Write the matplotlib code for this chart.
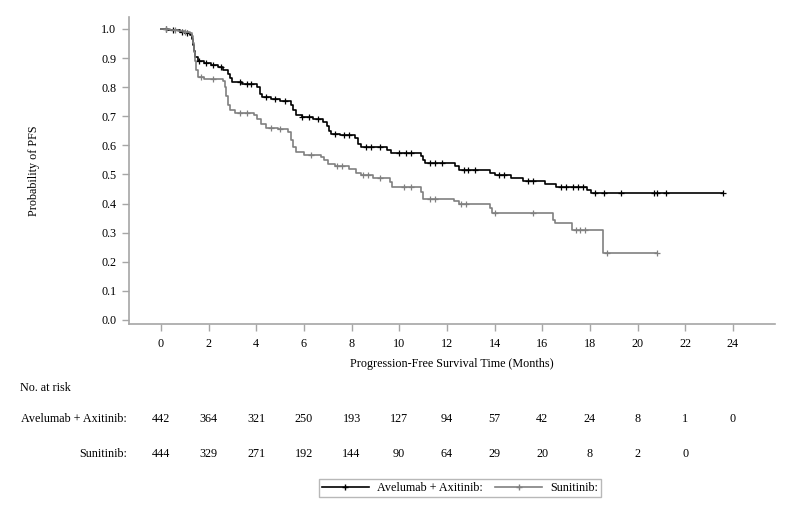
import matplotlib
matplotlib.use("Agg")
import matplotlib.pyplot as plt
import matplotlib.transforms as mtransforms
from matplotlib.lines import Line2D

plt.rcParams['font.family'] = ['Liberation Serif', 'DejaVu Serif']
FS = 8.7

# Avelumab + Axitinib KM steps (time in months, survival after step)
ava_t = [0, 0.3, 0.5, 0.8, 1.0, 1.2, 1.3, 1.35, 1.4, 1.45, 1.55, 1.8, 2.1, 2.4, 2.6, 2.8, 2.9, 3.0,
         3.4, 4.05, 4.15, 4.25, 4.6, 5.0, 5.45, 5.55, 5.65, 5.9, 6.4, 6.8, 6.95, 7.05, 7.15, 7.5,
         8.15, 8.25, 8.4, 9.5, 9.65, 10.9, 11.0, 11.1, 12.35, 12.5, 13.8, 14.0, 14.7, 15.2, 16.1,
         16.6, 17.9, 18.05]
ava_s = [1.0, 0.997, 0.995, 0.99, 0.985, 0.978, 0.965, 0.945, 0.925, 0.905, 0.89, 0.882, 0.876, 0.87,
         0.86, 0.845, 0.83, 0.818, 0.812, 0.80, 0.775, 0.765, 0.758, 0.752, 0.74, 0.72, 0.705, 0.698,
         0.69, 0.68, 0.665, 0.65, 0.638, 0.636, 0.625, 0.605, 0.593, 0.585, 0.575, 0.565, 0.55, 0.54,
         0.53, 0.515, 0.505, 0.498, 0.487, 0.478, 0.468, 0.456, 0.445, 0.436]
ava_end = 23.6
ava_cens = [0.2, 0.5, 0.9, 1.1, 1.6, 1.9, 2.2, 2.5, 3.3, 3.6, 3.8, 4.4, 4.8, 5.2, 5.9, 6.2, 6.6, 7.3,
            7.7, 7.9, 8.6, 8.8, 9.2, 10.0, 10.3, 10.5, 11.3, 11.5, 11.8, 12.7, 12.9, 13.2, 14.2,
            14.4, 15.4, 15.6, 16.8, 17.0, 17.3, 17.5, 17.7, 18.2, 18.6, 19.3, 20.7, 20.8, 21.2, 23.6]

# Sunitinib KM steps
sun_t = [0, 0.4, 0.7, 1.0, 1.2, 1.3, 1.35, 1.4, 1.43, 1.47, 1.55, 1.8, 2.6, 2.7, 2.75, 2.8, 2.9, 3.1,
         3.9, 4.05, 4.2, 4.4, 4.9, 5.35, 5.45, 5.55, 5.65, 6.0, 6.7, 6.85, 7.0, 7.3, 7.9, 8.2, 8.4,
         8.9, 9.6, 9.7, 10.9, 11.0, 12.3, 12.5, 13.8, 13.9, 16.45, 16.55, 17.25, 18.55]
sun_s = [1.0, 0.997, 0.993, 0.99, 0.985, 0.975, 0.95, 0.92, 0.89, 0.86, 0.835, 0.828, 0.82, 0.80,
         0.77, 0.74, 0.72, 0.71, 0.705, 0.69, 0.675, 0.66, 0.655, 0.645, 0.62, 0.595, 0.578, 0.568,
         0.56, 0.548, 0.535, 0.528, 0.52, 0.505, 0.497, 0.488, 0.475, 0.458, 0.44, 0.417, 0.41, 0.40,
         0.385, 0.368, 0.345, 0.333, 0.31, 0.23]
sun_end = 20.8
sun_cens = [0.2, 0.6, 1.0, 1.7, 2.2, 3.3, 3.6, 4.6, 5.0, 6.3, 7.4, 7.6, 8.5, 8.7, 9.2, 10.2, 10.5,
            11.3, 11.5, 12.6, 12.8, 14.0, 15.6, 17.4, 17.6, 17.8, 18.7, 20.8]

# Number at risk
risk_times = [0, 2, 4, 6, 8, 10, 12, 14, 16, 18, 20, 22, 24]
ava_risk = [442, 364, 321, 250, 193, 127, 94, 57, 42, 24, 8, 1, 0]
sun_times = [0, 2, 4, 6, 8, 10, 12, 14, 16, 18, 20, 22]
sun_risk = [444, 329, 271, 192, 144, 90, 64, 29, 20, 8, 2, 0]

labels = ["Avelumab + Axitinib:", "Sunitinib:"]
colors = ["#000000", "#808080"]

fig = plt.figure(figsize=(8, 5.32), dpi=100)
ax = fig.add_axes([129/800, 1-324/532, (775-129)/800, (324-17)/532])


def surv_at(ts, ss, x):
    v = ss[0]
    for t, s in zip(ts, ss):
        if t <= x:
            v = s
    return v


for ts, ss, end, cens, c in [(ava_t, ava_s, ava_end, ava_cens, colors[0]),
                             (sun_t, sun_s, sun_end, sun_cens, colors[1])]:
    ax.step(list(ts) + [end], list(ss) + [ss[-1]], where='post', color=c, lw=1.2)
    ax.plot(cens, [surv_at(ts, ss, x) for x in cens], linestyle='none', marker='+',
            color=c, markersize=4.5, markeredgewidth=0.9)

ax.set_xlim(-1.34, 25.77)
ax.set_ylim(-0.014, 1.041)
ax.set_xticks(risk_times)
ax.set_yticks([i/10 for i in range(11)])
ax.set_yticklabels([f"{i/10:.1f}" for i in range(11)])
for sp in ['top', 'right']:
    ax.spines[sp].set_visible(False)
for sp in ['left', 'bottom']:
    ax.spines[sp].set_color('#a6a6a6')
    ax.spines[sp].set_linewidth(1.2)
ax.tick_params(colors='#a6a6a6', labelcolor='black', labelsize=FS, length=5, width=1)
ax.tick_params(axis='x', pad=5)
ax.tick_params(axis='y', pad=4)
ax.set_xlabel("Progression-Free Survival Time (Months)", fontsize=FS, labelpad=6)
ax.set_ylabel("Probability of PFS", fontsize=FS, labelpad=44)

# At-risk table
trans = mtransforms.blended_transform_factory(ax.transData, fig.transFigure)
fig.text(20/800, 1-388/532, "No. at risk", fontsize=FS, va='center', ha='left')
fig.text(127/800, 1-419/532, labels[0], fontsize=FS, va='center', ha='right')
fig.text(127/800, 1-454/532, labels[1], fontsize=FS, va='center', ha='right')
for t, n in zip(risk_times, ava_risk):
    ax.text(t, 1-419/532, str(n), transform=trans, fontsize=FS, ha='center', va='center')
for t, n in zip(sun_times, sun_risk):
    ax.text(t, 1-454/532, str(n), transform=trans, fontsize=FS, ha='center', va='center')

handles = [Line2D([], [], color=colors[0], lw=1.2, marker='+', markersize=4.5),
           Line2D([], [], color=colors[1], lw=1.2, marker='+', markersize=4.5)]
leg = fig.legend(handles, labels, loc='center', bbox_to_anchor=(460/800, 1-488/532), ncol=2,
                 frameon=True, fancybox=False, fontsize=FS, handlelength=3.9,
                 borderpad=0.25, columnspacing=1.0, handletextpad=0.7, markerscale=1)
leg.get_frame().set_edgecolor('#a6a6a6')
leg.get_frame().set_linewidth(1.0)

fig.savefig("out.png", dpi=100)
